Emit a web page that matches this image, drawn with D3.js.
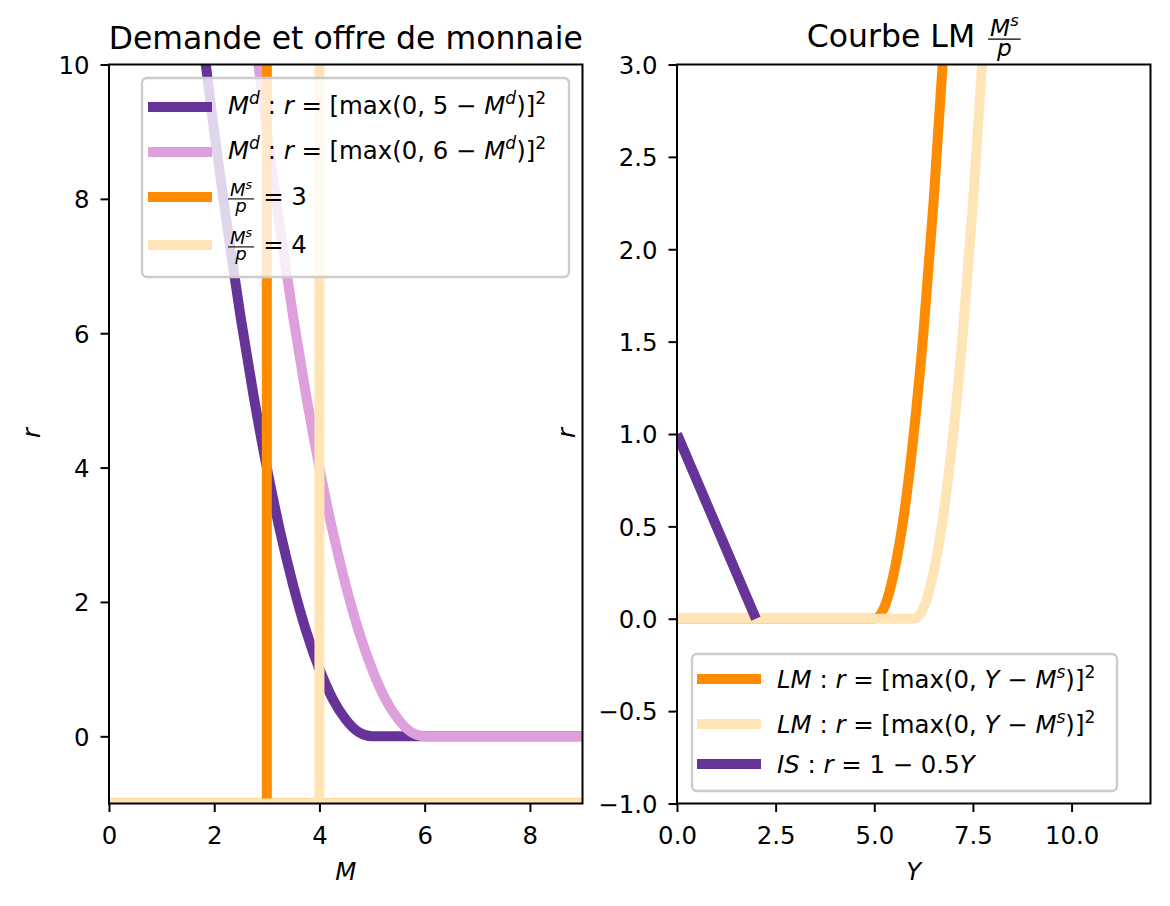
<!DOCTYPE html>
<html>
<head>
<meta charset="utf-8">
<script src="https://cdn.jsdelivr.net/npm/d3@7"></script>
<style>
body { margin: 0; background: #fff; }
svg { font-family: "DejaVu Sans", sans-serif; }
</style>
</head>
<body>
<div id="main"></div>
<script>
// left panel: money demand / supply
var mDemand5 = [1.5, 1.75, 2, 2.25, 2.5, 2.75, 3, 3.25, 3.5, 3.75, 4, 4.25, 4.5, 4.75, 5, 9];
var rDemand5 = [12.25, 10.56, 9.0, 7.56, 6.25, 5.06, 4.0, 3.06, 2.25, 1.56, 1.0, 0.56, 0.25, 0.06, 0, 0];
var mDemand6 = [2.5, 2.75, 3, 3.25, 3.5, 3.75, 4, 4.25, 4.5, 4.75, 5, 5.25, 5.5, 5.75, 6, 9];
var rDemand6 = [12.25, 10.56, 9.0, 7.56, 6.25, 5.06, 4.0, 3.06, 2.25, 1.56, 1.0, 0.56, 0.25, 0.06, 0, 0];
var supplyLevels = [3, 4];
var supplyR = [-1, 10];
var bottomM = [0, 9];
var leftXTicks = [0, 2, 4, 6, 8];
var leftYTicks = [0, 2, 4, 6, 8, 10];

// right panel: LM / IS
var yLM5 = [0, 5, 5.25, 5.5, 5.75, 6, 6.25, 6.5, 6.75, 7];
var rLM5 = [0, 0, 0.06, 0.25, 0.56, 1.0, 1.56, 2.25, 3.06, 4.0];
var yLM6 = [0, 6, 6.25, 6.5, 6.75, 7, 7.25, 7.5, 7.75, 8];
var rLM6 = [0, 0, 0.06, 0.25, 0.56, 1.0, 1.56, 2.25, 3.06, 4.0];
var yIS = [0, 2];
var rIS = [1, 0];
var rightXTicks = [0, 2.5, 5, 7.5, 10];
var rightYTicks = [-1, -0.5, 0, 0.5, 1, 1.5, 2, 2.5, 3];

var PURPLE = "#663399", PLUM = "#dda0dd", ORANGE = "#ff8c00", LIGHT = "#ffe4b5";
var LW = 10;
var FS = 24.4;
var TFS = 31.5;

var width = 1170, height = 906;
var svg = d3.select("#main").append("svg")
  .attr("width", width).attr("height", height);

function zip(xs, ys){ return xs.map(function(x, i){ return [x, ys[i]]; }); }

// mathtext-ish: segments {t, i: italic, sup: superscript}
function rich(g, x, y, segs, size, anchor){
  var t = g.append("text").attr("x", x).attr("y", y)
    .attr("font-size", size).attr("text-anchor", anchor || "start");
  var cur = 0;
  segs.forEach(function(s){
    var target = s.sup ? -size * 0.42 : 0;
    var sp = t.append("tspan").text(s.t).attr("dy", target - cur);
    cur = target;
    if (s.i) sp.attr("font-style", "italic");
    if (s.sup) sp.attr("font-size", size * 0.7);
  });
  return t;
}

// fraction M^s / p, left edge at x, baseline y; returns right edge
function frac(g, x, y, size){
  var s2 = size * 0.74;
  var axisY = y - size * 0.25;
  var num = rich(g, x + 2, axisY - size * 0.1, [{t: "M", i: 1}, {t: "s", i: 1, sup: 1}], s2);
  var w = num.node().getComputedTextLength();
  g.append("line").attr("x1", x).attr("x2", x + w + 4)
    .attr("y1", axisY).attr("y2", axisY)
    .attr("stroke", "#000").attr("stroke-width", size * 0.045);
  g.append("text").attr("x", x + (w + 4) / 2).attr("y", axisY + size * 0.52)
    .attr("font-size", s2).attr("font-style", "italic")
    .attr("text-anchor", "middle").text("p");
  return x + w + 4;
}

function panel(box, xDom, yDom, xTicks, yTicks, xFmt, yFmt, id){
  var x = d3.scaleLinear().domain(xDom).range([box.x0, box.x1]);
  var y = d3.scaleLinear().domain(yDom).range([box.y1, box.y0]);
  svg.append("clipPath").attr("id", id)
    .append("rect").attr("x", box.x0).attr("y", box.y0)
    .attr("width", box.x1 - box.x0).attr("height", box.y1 - box.y0);
  var plot = svg.append("g").attr("clip-path", "url(#" + id + ")");
  var line = d3.line().x(function(d){ return x(d[0]); }).y(function(d){ return y(d[1]); })
    .curve(d3.curveMonotoneX);
  var straight = d3.line().x(function(d){ return x(d[0]); }).y(function(d){ return y(d[1]); });

  var xa = svg.append("g").attr("transform", "translate(0," + box.y1 + ")")
    .call(d3.axisBottom(x).tickValues(xTicks).tickFormat(xFmt).tickSize(8.5).tickPadding(14.5).tickSizeOuter(0));
  var ya = svg.append("g").attr("transform", "translate(" + box.x0 + ",0)")
    .call(d3.axisLeft(y).tickValues(yTicks).tickFormat(yFmt).tickSize(8.5).tickPadding(11).tickSizeOuter(0));
  [xa, ya].forEach(function(a){
    a.select(".domain").remove();
    a.selectAll("line").attr("stroke", "#000").attr("stroke-width", 2);
    a.selectAll("text").attr("font-size", FS).attr("font-family", "DejaVu Sans").attr("fill", "#000");
  });
  ya.selectAll("text").attr("dy", "0.36em");

  return {x: x, y: y, plot: plot, line: line, straight: straight};
}

function spines(box){
  svg.append("rect").attr("x", box.x0).attr("y", box.y0)
    .attr("width", box.x1 - box.x0).attr("height", box.y1 - box.y0)
    .attr("fill", "none").attr("stroke", "#000").attr("stroke-width", 2);
}

function path(p, d, color, gen){
  p.plot.append("path").attr("d", (gen || p.line)(d))
    .attr("fill", "none").attr("stroke", color).attr("stroke-width", LW)
    .attr("stroke-linecap", "butt").attr("stroke-linejoin", "round");
}

function legendBox(x, y, w, h){
  svg.append("rect").attr("x", x).attr("y", y).attr("width", w).attr("height", h)
    .attr("rx", 5).attr("ry", 5)
    .attr("fill", "#fff").attr("fill-opacity", 0.8)
    .attr("stroke", "#cccccc").attr("stroke-width", 2.4);
}

function legendLine(x, y, color){
  svg.append("line").attr("x1", x).attr("x2", x + 64).attr("y1", y).attr("y2", y)
    .attr("stroke", color).attr("stroke-width", LW);
}

// ---------- left ----------
var boxL = {x0: 109, x1: 582.5, y0: 64.5, y1: 803.5};
var L = panel(boxL, [0, 9], [-1, 10], leftXTicks, leftYTicks, d3.format("d"), d3.format("d"), "clipL");
path(L, zip(mDemand5, rDemand5), PURPLE);
path(L, zip(mDemand6, rDemand6), PLUM);
[ORANGE, LIGHT].forEach(function(c, i){
  path(L, supplyR.map(function(r){ return [supplyLevels[i], r]; }), c, L.straight);
  path(L, bottomM.map(function(m){ return [m, supplyR[0]]; }), c, L.straight);
});
spines(boxL);

svg.append("text").attr("x", (boxL.x0 + boxL.x1) / 2).attr("y", 49)
  .attr("text-anchor", "middle").attr("font-size", TFS).text("Demande et offre de monnaie");
svg.append("text").attr("x", (boxL.x0 + boxL.x1) / 2).attr("y", 880)
  .attr("text-anchor", "middle").attr("font-size", FS).attr("font-style", "italic").text("M");
svg.append("text").attr("transform", "translate(40,433) rotate(-90)")
  .attr("text-anchor", "middle").attr("font-size", FS).attr("font-style", "italic").text("r");

legendBox(142, 78, 427, 199);
var lg = svg.append("g");
var demandLabel = function(k){
  return [{t: "M", i: 1}, {t: "d", i: 1, sup: 1}, {t: " : "}, {t: "r", i: 1},
    {t: " = [max(0, " + k + " − "}, {t: "M", i: 1}, {t: "d", i: 1, sup: 1}, {t: ")]"}, {t: "2", sup: 1}];
};
legendLine(148, 107, PURPLE);
rich(lg, 228, 114, demandLabel(5), FS);
legendLine(148, 152, PLUM);
rich(lg, 228, 159, demandLabel(6), FS);
legendLine(148, 197, ORANGE);
var e3 = frac(lg, 228, 205, FS);
lg.append("text").attr("x", e3 + 9).attr("y", 205).attr("font-size", FS).text("= " + supplyLevels[0]);
legendLine(148, 245, LIGHT);
var e4 = frac(lg, 228, 253, FS);
lg.append("text").attr("x", e4 + 9).attr("y", 253).attr("font-size", FS).text("= " + supplyLevels[1]);

// ---------- right ----------
var boxR = {x0: 677, x1: 1150.5, y0: 64.5, y1: 803.5};
var R = panel(boxR, [0, 12], [-1, 3], rightXTicks, rightYTicks, d3.format(".1f"), d3.format(".1f"), "clipR");
path(R, zip(yLM5, rLM5), ORANGE);
path(R, zip(yLM6, rLM6), LIGHT);
path(R, zip(yIS, rIS), PURPLE, R.straight);
spines(boxR);

var tg = svg.append("g");
var tt = tg.append("text").attr("x", 0).attr("y", 47).attr("font-size", TFS).text("Courbe LM");
var tw = tt.node().getComputedTextLength();
var tEnd = frac(tg, tw + 13, 47, TFS);
tg.attr("transform", "translate(" + ((boxR.x0 + boxR.x1) / 2 - tEnd / 2) + ",0)");

svg.append("text").attr("x", (boxR.x0 + boxR.x1) / 2).attr("y", 880)
  .attr("text-anchor", "middle").attr("font-size", FS).attr("font-style", "italic").text("Y");
svg.append("text").attr("transform", "translate(575,433) rotate(-90)")
  .attr("text-anchor", "middle").attr("font-size", FS).attr("font-style", "italic").text("r");

legendBox(692, 654, 425, 137);
var rg = svg.append("g");
var lmLabel = [{t: "LM", i: 1}, {t: " : "}, {t: "r", i: 1}, {t: " = [max(0, "}, {t: "Y", i: 1},
  {t: " − "}, {t: "M", i: 1}, {t: "s", i: 1, sup: 1}, {t: ")]"}, {t: "2", sup: 1}];
legendLine(697, 679, ORANGE);
rich(rg, 777, 688, lmLabel, FS);
legendLine(697, 724, LIGHT);
rich(rg, 777, 733, lmLabel, FS);
legendLine(697, 764, PURPLE);
rich(rg, 777, 773, [{t: "IS", i: 1}, {t: " : "}, {t: "r", i: 1}, {t: " = 1 − 0.5"}, {t: "Y", i: 1}], FS);
</script>
</body>
</html>
